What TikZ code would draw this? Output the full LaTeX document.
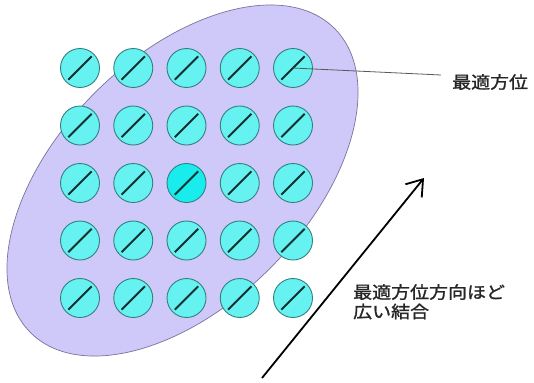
\documentclass[tikz,border=0pt]{standalone}
\usepackage{fontspec}
\newfontfamily\cjk[FakeStretch=1.12,FakeBold=1.3]{Noto Sans CJK JP}
\usetikzlibrary{arrows.meta}
\definecolor{lav}{RGB}{206,201,248}
\definecolor{lavedge}{RGB}{125,112,155}
\definecolor{cyfill}{RGB}{102,242,240}
\definecolor{cycenter}{RGB}{25,236,236}
\definecolor{cyedge}{RGB}{50,128,128}
\definecolor{barcol}{RGB}{18,48,48}
\tikzset{
  cell/.style={circle, draw=cyedge, line width=0.9bp, fill=cyfill,
    minimum size=39bp, inner sep=0pt,
    path picture={\draw[barcol, line width=2bp]
      ([shift={(-135:16.5bp)}]path picture bounding box.center) --
      ([shift={(45:16.5bp)}]path picture bounding box.center);}},
  hot/.style={cell, fill=cycenter},
  lbl/.style={inner sep=0pt, font=\cjk\fontsize{17}{19.5}\selectfont, text=black!85},
  leader/.style={draw=black!65, line width=0.8bp},
  bigarrow/.style={draw=black, line width=1.8bp, -{Straight Barb[length=15bp,width=21bp]}}
}
\begin{document}
\begin{tikzpicture}[x=1bp,y=-1bp]
\useasboundingbox (0,0) rectangle (534,382);
% ellipse
\draw[fill=lav, draw=lavedge, line width=0.7bp, rotate around={45:(182.5,180.5)}]
  (182.5,180.5) ellipse [x radius=215, y radius=124];
% grid of circles
\foreach \r/\y in {1/68,2/125.5,3/183,4/240.5,5/298}{
  \foreach \c/\x in {1/80,2/133.25,3/186.5,4/239.75,5/293}{
    \ifnum\r=3 \ifnum\c=3
      \node[hot] (c\r\c) at (\x,\y) {};
    \else
      \node[cell] (c\r\c) at (\x,\y) {};
    \fi\else
      \node[cell] (c\r\c) at (\x,\y) {};
    \fi
  }
}
% label 1
\node[lbl, anchor=west] (lab1) at (452,82) {最適方位};
\coordinate (le) at (441,75);
\path[leader] (c15.center) -- (le);
% arrow
\coordinate (atail) at (262,378);
\coordinate (ahead) at (424,178);
\path[bigarrow] (atail) -- (ahead);
% label 2
\node[lbl, anchor=north west, align=left] (lab2) at (353,284) {最適方位方向ほど\\広い結合};
\end{tikzpicture}
\end{document}
